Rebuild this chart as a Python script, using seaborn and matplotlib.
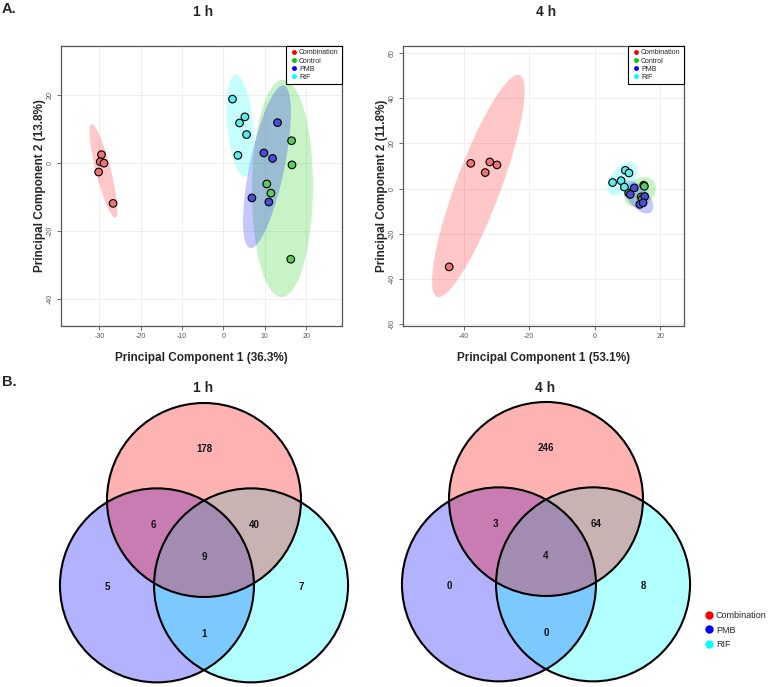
"""PCA score plots and Venn diagrams for 1 h and 4 h treatments."""

import numpy as np
import matplotlib

matplotlib.use("Agg")
import matplotlib.pyplot as plt
from matplotlib.patches import Ellipse, Circle
from matplotlib.lines import Line2D
import seaborn as sns

# ---- data -------------------------------------------------------------
group_names = ["Combination", "Control", "PMB", "RIF"]
group_labels = [g for g in group_names for _ in range(5)]

pc1_1h = [-29.5, -29.8, -28.9, -30.2, -26.7,
          16.5, 16.6, 10.5, 11.5, 16.3,
          13.1, 9.8, 11.9, 6.9, 11.0,
          2.2, 5.2, 3.9, 5.6, 3.5]
pc2_1h = [2.5, 0.4, 0.0, -2.6, -11.8,
          6.6, -0.5, -6.1, -8.8, -28.2,
          11.9, 3.0, 1.4, -10.2, -11.4,
          18.8, 13.6, 11.8, 8.4, 2.3]

pc1_4h = [-37.8, -32.0, -29.8, -33.4, -44.4,
          15.0, 15.2, 14.2, 10.4, 14.6,
          12.1, 10.9, 15.3, 13.8, 14.8,
          5.5, 8.1, 9.4, 10.5, 9.1]
pc2_4h = [11.2, 11.8, 10.5, 7.1, -34.7,
          1.5, 1.0, -3.7, -2.0, -4.5,
          0.3, -2.6, -3.5, -7.0, -6.3,
          2.7, 3.5, 8.1, 6.9, 0.7]

var_1h = [36.3, 13.8]
var_4h = [53.1, 11.8]

# Venn regions: Comb only, Comb&PMB, Comb&RIF, all, PMB only, RIF only, PMB&RIF
venn_1h = [178, 6, 40, 9, 5, 7, 1]
venn_4h = [246, 3, 64, 4, 0, 8, 0]
venn_sets = ["Combination", "PMB", "RIF"]

# ---- style --------------------------------------------------------------
group_colors = {"Combination": "#FF0000", "Control": "#00CC00",
                "PMB": "#0000FF", "RIF": "#00FFFF"}
point_colors = {"Combination": "#EC7474", "Control": "#5DCB5D",
                "PMB": "#4C4CDC", "RIF": "#5DEAEA"}

sns.set_theme(style="white")
plt.rcParams["font.family"] = ["Liberation Sans", "DejaVu Sans"]
plt.rcParams["axes.unicode_minus"] = False

W, H = 771, 687
fig = plt.figure(figsize=(W / 100, H / 100), dpi=100)


def px_axes(left, top, width, height):
    """Add axes placed in pixel units measured from the top-left corner."""
    return fig.add_axes([left / W, 1 - (top + height) / H, width / W, height / H])


def add_ellipse(ax, x, y, color):
    """95% confidence ellipse of a group from its covariance."""
    x, y = np.asarray(x), np.asarray(y)
    cov = np.cov(x, y)
    vals, vecs = np.linalg.eigh(cov)
    order = vals.argsort()[::-1]
    vals, vecs = vals[order], vecs[:, order]
    k = np.sqrt(-2 * np.log(0.05))
    angle = np.degrees(np.arctan2(vecs[1, 0], vecs[0, 0]))
    ax.add_patch(Ellipse((x.mean(), y.mean()), 2 * k * np.sqrt(vals[0]),
                         2 * k * np.sqrt(vals[1]), angle=angle,
                         facecolor=color, alpha=0.22, edgecolor="none", zorder=1))


def pca_panel(ax, pc1, pc2, var, xlim, ylim, xticks, yticks):
    pc1, pc2 = np.asarray(pc1), np.asarray(pc2)
    labels = np.asarray(group_labels)
    for g in group_names:
        m = labels == g
        add_ellipse(ax, pc1[m], pc2[m], group_colors[g])
    sns.scatterplot(x=pc1, y=pc2, hue=group_labels, palette=point_colors,
                    s=30, edgecolor="black", linewidth=0.8, legend=False,
                    ax=ax, zorder=3)
    ax.set_xlim(*xlim)
    ax.set_ylim(*ylim)
    ax.set_xticks(xticks)
    ax.set_yticks(yticks)
    ax.grid(True, color="#EDEDED", lw=0.6)
    ax.set_axisbelow(True)
    for s in ax.spines.values():
        s.set_color("#555555")
        s.set_linewidth(0.9)
    ax.tick_params(length=3, width=0.6, color="#555555", labelsize=5,
                   labelcolor="#555555", bottom=True, left=True, pad=2)
    for lab in ax.get_yticklabels():
        lab.set_rotation(90)
        lab.set_va("center")
    ax.set_xlabel(f"Principal Component 1 ({var[0]}%)", fontsize=8.5,
                  fontweight="bold", labelpad=9)
    ax.set_ylabel(f"Principal Component 2 ({var[1]}%)", fontsize=8.5,
                  fontweight="bold", labelpad=1)
    handles = [Line2D([], [], marker="o", ls="", color=group_colors[g], markersize=2.5)
               for g in group_names]
    leg = ax.legend(handles, group_names, loc="upper right", fontsize=5,
                    frameon=True, fancybox=False, edgecolor="black", framealpha=1,
                    borderaxespad=0, handletextpad=0.1, labelspacing=0.15,
                    borderpad=0.5, handlelength=1.2)
    leg.get_frame().set_linewidth(0.8)


ax1 = px_axes(61, 46, 281, 280)
pca_panel(ax1, pc1_1h, pc2_1h, var_1h, (-39.3, 28.7), (-47.8, 34.4),
          [-30, -20, -10, 0, 10, 20], [-40, -20, 0, 20])
ax2 = px_axes(403, 46, 281, 280)
pca_panel(ax2, pc1_4h, pc2_4h, var_4h, (-58.5, 27.3), (-60.9, 63.2),
          [-40, -20, 0, 20], [-60, -40, -20, 0, 20, 40, 60])

# ---- Venn diagrams --------------------------------------------------------
venn_colors = {"Combination": "#FF0000", "PMB": "#0000FF", "RIF": "#00FFFF"}
centers = {"Combination": (0, 0), "PMB": (-0.485, -0.88), "RIF": (0.485, -0.88)}
label_pos = [(0, 0.53), (-0.52, -0.26), (0.52, -0.26), (0, -0.59),
             (-1.0, -0.9), (1.0, -0.9), (0, -1.38)]
R = 97


def venn_panel(cx, cy, counts):
    ax = px_axes(cx - 1.6 * R, cy - 1.05 * R, 3.2 * R, 3.0 * R)
    ax.set_xlim(-1.6, 1.6)
    ax.set_ylim(-1.95, 1.05)
    ax.set_aspect("equal")
    ax.axis("off")
    for name in ["PMB", "RIF", "Combination"]:
        ax.add_patch(Circle(centers[name], 1, facecolor=venn_colors[name],
                            alpha=0.3, edgecolor="none"))
    for name in venn_sets:
        ax.add_patch(Circle(centers[name], 1, facecolor="none",
                            edgecolor="black", lw=1.5))
    for (x, y), n in zip(label_pos, counts):
        ax.text(x, y, str(n), ha="center", va="center", fontsize=7,
                fontweight="bold", color="#111111")
    return ax


venn_panel(204, 500, venn_1h)
venn_panel(546, 499, venn_4h)

venn_handles = [Line2D([], [], marker="o", ls="", color=venn_colors[s], markersize=5)
                for s in venn_sets]
fig.legend(venn_handles, venn_sets, loc="upper left",
           bbox_to_anchor=(696 / W, 1 - 603 / H), frameon=False, fontsize=6.5,
           handletextpad=0.3, labelspacing=0.6, handlelength=1)

# ---- titles and panel letters ------------------------------------------
for x, y, t in [(203, 12, "1 h"), (546, 12, "4 h"), (203, 388, "1 h"), (545, 388, "4 h")]:
    fig.text(x / W, 1 - y / H, t, ha="center", va="center", fontsize=10,
             fontweight="bold")
fig.text(2 / W, 1 - 9 / H, "A.", ha="left", va="center", fontsize=10.5, fontweight="bold")
fig.text(2 / W, 1 - 382 / H, "B.", ha="left", va="center", fontsize=10.5, fontweight="bold")

fig.savefig("out.png", dpi=100)
